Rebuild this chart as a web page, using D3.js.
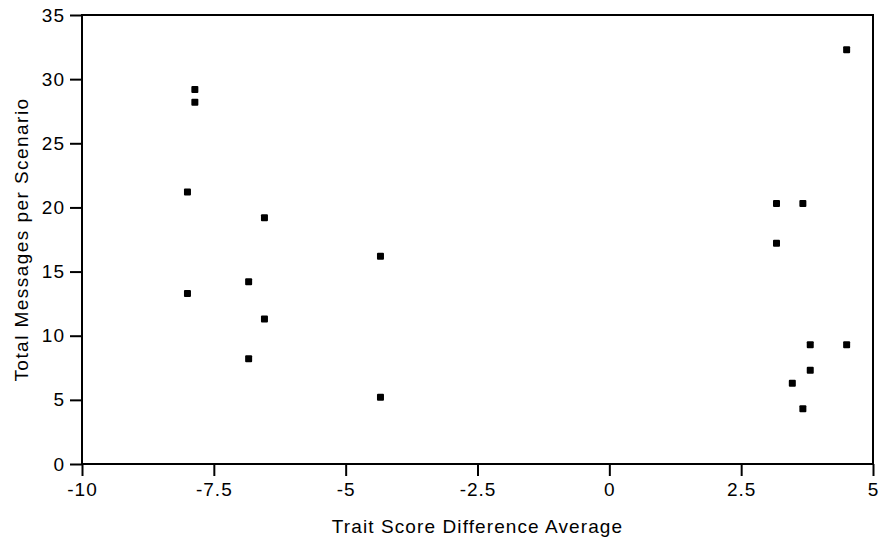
<!DOCTYPE html>
<html>
<head>
<meta charset="utf-8">
<script src="https://cdn.jsdelivr.net/npm/d3@7"></script>
<style>
  body { margin: 0; background: #fff; }
  text { font-family: "Liberation Sans", Arial, sans-serif; fill: #000; }
</style>
</head>
<body>
<svg id="chart" width="881" height="542"></svg>
<script>
// values
var traitDiff = [-7.86, -7.86, -8.0, -6.54, -4.34, -6.84, -8.0, -6.54, -6.84, -4.34,
                 4.5, 3.17, 3.67, 3.17, 3.81, 4.5, 3.81, 3.47, 3.67];
var totalMessages = [29.2, 28.2, 21.2, 19.2, 16.2, 14.2, 13.3, 11.3, 8.2, 5.2,
                     32.3, 20.3, 20.3, 17.2, 9.3, 9.3, 7.3, 6.3, 4.3];
var xTicks = [-10, -7.5, -5, -2.5, 0, 2.5, 5];
var yTicks = [0, 5, 10, 15, 20, 25, 30, 35];
var xTitle = "Trait Score Difference Average",
    yTitle = "Total Messages per Scenario";

var svg = d3.select("#chart"),
    margin = {top: 15, right: 8, bottom: 78, left: 82},
    width = +svg.attr("width") - margin.left - margin.right,
    height = +svg.attr("height") - margin.top - margin.bottom,
    g = svg.append("g").attr("transform", "translate(" + margin.left + "," + margin.top + ")");

var x = d3.scaleLinear().domain([-10, 5]).range([0, width]),
    y = d3.scaleLinear().domain([0, 35]).range([height, 0]);

function styleAxis(sel) {
  sel.select(".domain").remove();
  sel.selectAll(".tick line").attr("stroke", "#000").attr("stroke-width", 2);
  sel.selectAll(".tick text")
    .style("font-size", "19px")
    .style("letter-spacing", "1px");
}

g.append("g")
    .attr("transform", "translate(0," + height + ")")
    .call(d3.axisBottom(x).tickValues(xTicks).tickSize(12).tickPadding(7)
      .tickFormat(function(d) { return String(d); }))
    .call(styleAxis);

g.append("g")
    .call(d3.axisLeft(y).tickValues(yTicks).tickSize(12).tickPadding(5)
      .tickFormat(function(d) { return String(d); }))
    .call(styleAxis);

// frame
g.append("rect")
    .attr("x", 0).attr("y", 0)
    .attr("width", width).attr("height", height)
    .attr("fill", "none")
    .attr("stroke", "#000")
    .attr("stroke-width", 2);

var pts = traitDiff.map(function(d, i) { return {x: d, y: totalMessages[i]}; });

g.selectAll(".pt")
  .data(pts)
  .enter().append("rect")
    .attr("class", "pt")
    .attr("x", function(d) { return x(d.x) - 3.5; })
    .attr("y", function(d) { return y(d.y) - 3.5; })
    .attr("width", 7)
    .attr("height", 7)
    .attr("rx", 1)
    .attr("fill", "#000");

svg.append("text")
    .attr("x", margin.left + width / 2)
    .attr("y", 533)
    .attr("text-anchor", "middle")
    .style("font-size", "19px")
    .style("letter-spacing", "1.1px")
    .text(xTitle);

svg.append("text")
    .attr("transform", "translate(28," + (margin.top + height / 2) + ") rotate(-90)")
    .attr("text-anchor", "middle")
    .style("font-size", "19px")
    .style("letter-spacing", "1.45px")
    .text(yTitle);
</script>
</body>
</html>
